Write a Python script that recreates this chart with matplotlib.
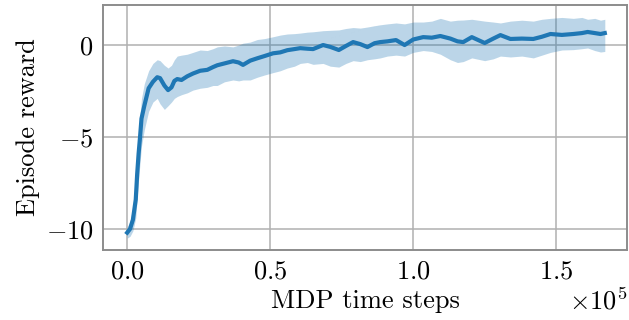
import matplotlib
matplotlib.use("Agg")
import matplotlib.pyplot as plt
import numpy as np

# MDP time steps and episode reward (mean with spread band)
steps = [0, 1000, 2000, 3000, 3500, 4000, 4500, 5000, 6000, 7500, 9000, 10500, 11500,
         13000, 14300, 15500, 16500, 17500, 19000, 21000, 23000, 25500, 28000, 30000,
         31500, 34000, 37000, 39000, 40500, 43000, 45500, 48000, 51000, 53500, 56000,
         58500, 60500, 63000, 65000, 68500, 71000, 74000, 76500, 79000, 81500, 84000,
         86500, 88500, 91000, 94000, 97000, 100000, 103500, 106500, 109500, 113000,
         115500, 117500, 120500, 125000, 128000, 130500, 134000, 138000, 142000,
         145000, 148000, 152000, 156000, 159000, 161000, 163500, 165500, 167000]
reward_mean = [-10.2, -10.0, -9.5, -8.4, -7.0, -5.9, -5.0, -4.0, -3.3, -2.35, -2.0, -1.75,
               -1.8, -2.2, -2.45, -2.3, -1.95, -1.85, -1.9, -1.7, -1.55, -1.4, -1.35, -1.2,
               -1.1, -1.0, -0.88, -0.95, -1.08, -0.85, -0.72, -0.6, -0.45, -0.4, -0.28,
               -0.22, -0.17, -0.2, -0.22, 0.0, -0.1, -0.27, -0.05, 0.16, 0.05, -0.11, 0.1,
               0.16, 0.2, 0.27, 0.0, 0.3, 0.43, 0.4, 0.49, 0.35, 0.2, 0.16, 0.43, 0.11,
               0.35, 0.54, 0.33, 0.35, 0.33, 0.45, 0.6, 0.55, 0.6, 0.65, 0.71, 0.65, 0.6,
               0.65]
reward_lo = [-10.5, -10.4, -10.1, -9.4, -8.3, -7.3, -6.4, -5.5, -4.6, -3.6, -3.1, -2.9,
             -3.2, -3.5, -3.3, -3.1, -2.9, -2.8, -2.7, -2.6, -2.45, -2.35, -2.3, -2.2,
             -2.2, -2.0, -1.9, -1.95, -1.9, -1.9, -1.75, -1.63, -1.5, -1.4, -1.25, -1.15,
             -1.0, -0.95, -1.05, -1.0, -1.15, -1.2, -1.0, -0.85, -0.9, -0.8, -0.75, -0.7,
             -0.6, -0.55, -0.6, -0.4, -0.3, -0.35, -0.5, -0.8, -0.95, -0.9, -0.7, -0.85,
             -0.75, -0.6, -0.65, -0.6, -0.7, -0.55, -0.4, -0.27, -0.25, -0.2, -0.16, -0.3,
             -0.38, -0.35]
reward_hi = [-9.9, -9.6, -8.8, -7.4, -5.9, -4.7, -3.8, -2.9, -2.1, -1.4, -1.0, -0.8,
             -0.85, -1.1, -1.25, -1.1, -0.8, -0.6, -0.55, -0.5, -0.4, -0.27, -0.3, -0.2,
             -0.1, -0.05, -0.1, 0.0, 0.1, 0.16, 0.3, 0.35, 0.45, 0.54, 0.6, 0.62, 0.65,
             0.7, 0.72, 0.78, 0.8, 0.82, 0.9, 0.95, 0.92, 0.98, 1.05, 1.1, 1.15, 1.2,
             1.15, 1.25, 1.25, 1.3, 1.45, 1.3, 1.35, 1.36, 1.4, 1.3, 1.25, 1.2, 1.3, 1.35,
             1.3, 1.4, 1.45, 1.5, 1.45, 1.5, 1.4, 1.45, 1.35, 1.4]

plt.rcParams["font.family"] = "serif"
plt.rcParams["font.serif"] = ["cmr10"]
plt.rcParams["mathtext.fontset"] = "cm"
plt.rcParams["axes.formatter.use_mathtext"] = True
plt.rcParams["axes.unicode_minus"] = True

fig = plt.figure(figsize=(6.29, 3.2), dpi=100)
ax = fig.add_axes([0.164, 0.219, 0.833, 0.765])

ax.fill_between(steps, reward_lo, reward_hi, color="#1f77b4", alpha=0.3, linewidth=0)
ax.plot(steps, reward_mean, color="#1f77b4", linewidth=3.0)

ax.set_xlim(-8400, 174800)
ax.set_ylim(-11.14, 2.17)
ax.set_xticks([0, 50000, 100000, 150000])
ax.set_yticks([-10, -5, 0])
ax.ticklabel_format(axis="x", style="sci", scilimits=(0, 0))

ax.grid(True, color="#b0b0b0", linewidth=1.1)
ax.set_axisbelow(True)
for s in ax.spines.values():
    s.set_color("#8c8c8c")
    s.set_linewidth(1.4)
ax.tick_params(length=0, labelsize=19, pad=7)
ax.xaxis.get_offset_text().set_fontsize(19)

ax.set_xlabel("MDP time steps", fontsize=19)
ax.set_ylabel("Episode reward", fontsize=19)

fig.savefig("out.png", dpi=100)
